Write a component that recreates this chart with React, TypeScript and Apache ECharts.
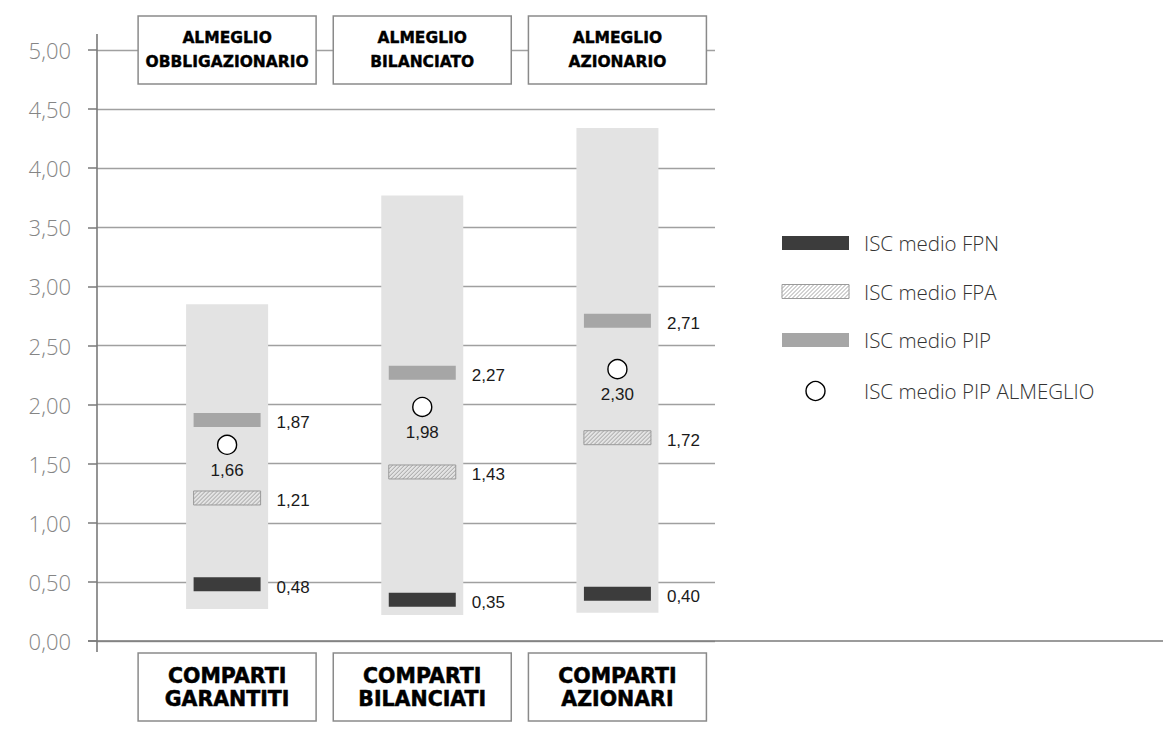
import React, { useEffect, useRef } from 'react';
import * as echarts from 'echarts';

const categories = ['COMPARTI\nGARANTITI', 'COMPARTI\nBILANCIATI', 'COMPARTI\nAZIONARI'];
const topLabels = ['ALMEGLIO\nOBBLIGAZIONARIO', 'ALMEGLIO\nBILANCIATO', 'ALMEGLIO\nAZIONARIO'];
const rangeLow = [0.27, 0.22, 0.24];
const rangeHigh = [2.85, 3.77, 4.34];
const iscFPN = [0.48, 0.35, 0.4];
const iscFPA = [1.21, 1.43, 1.72];
const iscPIP = [1.87, 2.27, 2.71];
const iscAlmeglio = [1.66, 1.98, 2.3];
const legendNames = ['ISC medio FPN', 'ISC medio FPA', 'ISC medio PIP', 'ISC medio PIP ALMEGLIO'];

const fmt = (v: number) => v.toFixed(2).replace('.', ',');
const LABEL_FONT = 'Liberation Sans, Arial, sans-serif';
const LIGHT_FONT = 'Open Sans, Lato, sans-serif';
const HEAVY_FONT = 'DejaVu Sans, sans-serif';
const HATCH = '#9a9a9a';

function hatchChildren(x0: number, y0: number, w: number, h: number) {
  const children: any[] = [];
  const s = 4;
  for (let k = -h; k < w; k += s) {
    const t0 = Math.max(0, -k);
    const t1 = Math.min(h, w - k);
    if (t1 <= t0) continue;
    children.push({
      type: 'line',
      shape: { x1: x0 + k + t0, y1: y0 + h - t0, x2: x0 + k + t1, y2: y0 + h - t1 },
      style: { stroke: HATCH, lineWidth: 0.9 },
      silent: true,
    });
  }
  children.push({
    type: 'rect',
    shape: { x: x0, y: y0, width: w, height: h },
    style: { fill: 'none', stroke: HATCH, lineWidth: 1 },
    silent: true,
  });
  return children;
}

export default function App() {
  const ref = useRef<HTMLDivElement>(null);
  useEffect(() => {
    if (!ref.current) return;
    const chart = echarts.init(ref.current, undefined, { renderer: 'svg' });
    const barLabel = {
      show: true,
      position: 'right',
      distance: 16,
      offset: [0, 3],
      fontSize: 17,
      color: '#1a1a1a',
      fontFamily: LABEL_FONT,
      formatter: (p: any) => fmt(p.value[1]),
    };
    chart.setOption({
      animation: false,
      grid: { left: 97, right: 453, top: 50, bottom: 90 },
      xAxis: {
        type: 'value',
        min: 1 - 2 / 3,
        max: 3.5,
        show: false,
      },
      yAxis: {
        type: 'value',
        min: 0,
        max: 5,
        interval: 0.5,
        axisLine: { show: false },
        axisTick: { show: true, length: 9, lineStyle: { color: '#7a7a7a', width: 1.5 } },
        axisLabel: {
          formatter: (v: number) => fmt(v),
          fontSize: 22,
          color: '#858585',
          fontFamily: LIGHT_FONT,
          fontWeight: 300,
          margin: 26,
        },
        splitLine: { show: true, lineStyle: { color: '#a0a0a0', width: 1.3 } },
      },
      series: [
        {
          type: 'custom',
          name: 'range',
          silent: true,
          z: 1,
          data: categories.map((_, i) => [i + 1, rangeLow[i], rangeHigh[i]]),
          encode: { x: 0, y: [1, 2] },
          renderItem: (params: any, api: any) => {
            const x = api.value(0);
            const lo = api.coord([x, api.value(1)]);
            const hi = api.coord([x, api.value(2)]);
            return {
              type: 'rect',
              shape: { x: lo[0] - 41, y: hi[1], width: 82, height: lo[1] - hi[1] },
              style: { fill: '#e3e3e3' },
            };
          },
        },
        {
          type: 'scatter',
          name: legendNames[0],
          silent: true,
          z: 3,
          data: iscFPN.map((v, i) => [i + 1, v]),
          symbol: 'rect',
          symbolSize: [67, 14],
          itemStyle: { color: '#3c3c3c', opacity: 1 },
          label: barLabel,
        },
        {
          type: 'custom',
          name: legendNames[1],
          silent: true,
          z: 3,
          data: iscFPA.map((v, i) => [i + 1, v]),
          encode: { x: 0, y: 1 },
          renderItem: (params: any, api: any) => {
            const c = api.coord([api.value(0), api.value(1)]);
            const w = 67, h = 14;
            const x0 = c[0] - w / 2, y0 = c[1] - h / 2;
            const children = hatchChildren(x0, y0, w, h);
            children.push({
              type: 'text',
              style: {
                text: fmt(api.value(1)),
                x: x0 + w + 16,
                y: c[1] + 3,
                verticalAlign: 'middle',
                align: 'left',
                fontSize: 17,
                fill: '#1a1a1a',
                fontFamily: LABEL_FONT,
              },
            });
            return { type: 'group', children };
          },
        },
        {
          type: 'scatter',
          name: legendNames[2],
          silent: true,
          z: 3,
          data: iscPIP.map((v, i) => [i + 1, v]),
          symbol: 'rect',
          symbolSize: [67, 14],
          itemStyle: { color: '#a6a6a6', opacity: 1 },
          label: barLabel,
        },
        {
          type: 'scatter',
          name: legendNames[3],
          silent: true,
          z: 4,
          data: iscAlmeglio.map((v, i) => [i + 1, v]),
          symbol: 'circle',
          symbolSize: 19,
          itemStyle: { color: '#ffffff', borderColor: '#000000', borderWidth: 1.4, opacity: 1 },
          label: {
            show: true,
            position: 'bottom',
            distance: 7,
            fontSize: 17,
            color: '#1a1a1a',
            fontFamily: LABEL_FONT,
            formatter: (p: any) => fmt(p.value[1]),
          },
        },
      ],
    });

    const y0 = chart.convertToPixel({ yAxisIndex: 0 }, 0) as number;
    const y5 = chart.convertToPixel({ yAxisIndex: 0 }, 5) as number;
    const xs = categories.map((_, i) => chart.convertToPixel({ xAxisIndex: 0 }, i + 1) as number);
    const axisX = chart.convertToPixel({ xAxisIndex: 0 }, 1 - 2 / 3) as number;

    const graphic: any[] = [];
    graphic.push({
      type: 'line', z: 20, silent: true,
      shape: { x1: axisX, y1: y5 - 16, x2: axisX, y2: y0 + 11 },
      style: { stroke: '#7a7a7a', lineWidth: 1.6 },
    });
    graphic.push({
      type: 'line', z: 20, silent: true,
      shape: { x1: axisX - 9, y1: y0, x2: 1163, y2: y0 },
      style: { stroke: '#7a7a7a', lineWidth: 1.6 },
    });
    const boxW = 178, boxH = 68;
    xs.forEach((cx, i) => {
      graphic.push({
        type: 'rect', z: 20, silent: true,
        shape: { x: cx - boxW / 2, y: 16, width: boxW, height: boxH },
        style: { fill: '#ffffff', stroke: '#8a8a8a', lineWidth: 1.5 },
      });
      graphic.push({
        type: 'text', z: 21, silent: true,
        style: {
          text: topLabels[i], x: cx, y: 50, align: 'center', verticalAlign: 'middle',
          fontSize: 15.5, lineHeight: 24, fontWeight: 'bold', fontFamily: HEAVY_FONT, fill: '#000000',
          stroke: '#000000', lineWidth: 0.4,
        },
      });
      graphic.push({
        type: 'rect', z: 20, silent: true,
        shape: { x: cx - boxW / 2, y: 653, width: boxW, height: boxH },
        style: { fill: '#ffffff', stroke: '#8a8a8a', lineWidth: 1.5 },
      });
      graphic.push({
        type: 'text', z: 21, silent: true,
        style: {
          text: categories[i], x: cx, y: 687, align: 'center', verticalAlign: 'middle',
          fontSize: 20.5, lineHeight: 23, fontWeight: 'bold', fontFamily: HEAVY_FONT, fill: '#000000',
          stroke: '#000000', lineWidth: 0.5,
        },
      });
    });

    // legend
    const lx = 782, lw = 67, lh = 14, tx = 864;
    const rows = [243, 291.5, 340, 391];
    graphic.push({
      type: 'rect', z: 20, silent: true,
      shape: { x: lx, y: rows[0] - lh / 2, width: lw, height: lh },
      style: { fill: '#3c3c3c' },
    });
    graphic.push({
      type: 'group', z: 20, silent: true,
      children: hatchChildren(lx, rows[1] - lh / 2, lw, lh),
    });
    graphic.push({
      type: 'rect', z: 20, silent: true,
      shape: { x: lx, y: rows[2] - lh / 2, width: lw, height: lh },
      style: { fill: '#a6a6a6' },
    });
    graphic.push({
      type: 'circle', z: 20, silent: true,
      shape: { cx: lx + lw / 2, cy: rows[3], r: 9.5 },
      style: { fill: '#ffffff', stroke: '#000000', lineWidth: 1.4 },
    });
    legendNames.forEach((n, i) => {
      graphic.push({
        type: 'text', z: 20, silent: true,
        style: {
          text: n, x: tx, y: rows[i], align: 'left', verticalAlign: 'middle',
          fontSize: 20.5, fontFamily: LIGHT_FONT, fontWeight: 300, fill: '#333333',
        },
      });
    });

    chart.setOption({ graphic });

    return () => chart.dispose();
  }, []);
  return (
    <div
      ref={ref}
      style={{ width: 1168, height: 731, position: 'absolute', left: 0, top: 0, background: '#ffffff' }}
    />
  );
}
